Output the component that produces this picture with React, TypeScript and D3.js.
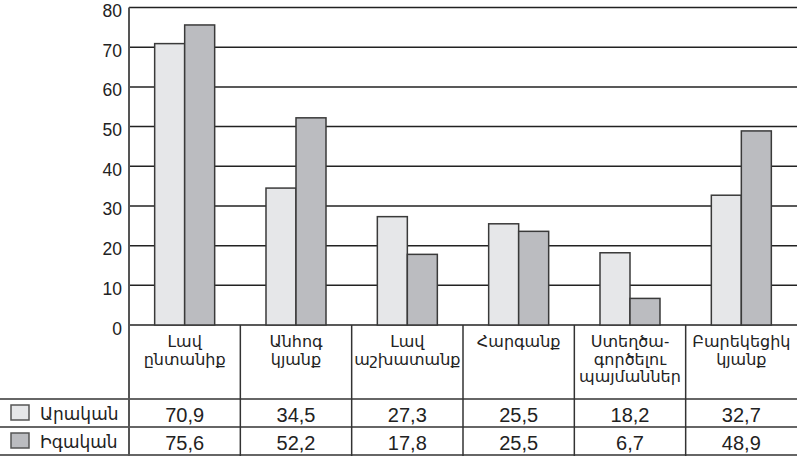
import React from 'react';
import * as d3 from 'd3';

// Categories, split into the lines shown in the table header
const CATEGORIES = ['family', 'carefree', 'work', 'respect', 'creative', 'wealth'];
const CATEGORY_LINES = [
  ['Լավ', 'ընտանիք'],
  ['Անհոգ', 'կյանք'],
  ['Լավ', 'աշխատանք'],
  ['Հարգանք'],
  ['Ստեղծա-', 'գործելու', 'պայմաններ'],
  ['Բարեկեցիկ', 'կյանք'],
];

const SERIES = ['Արական', 'Իգական'];
// Bar heights as drawn
const MALE = [70.9, 34.5, 27.3, 25.5, 18.2, 32.7];
const FEMALE = [75.6, 52.2, 17.8, 23.6, 6.7, 48.9];
// Values printed in the table
const MALE_LABELS = ['70,9', '34,5', '27,3', '25,5', '18,2', '32,7'];
const FEMALE_LABELS = ['75,6', '52,2', '17,8', '25,5', '6,7', '48,9'];
const Y_TICKS = [0, 10, 20, 30, 40, 50, 60, 70, 80];

const FILLS = ['#e6e7e9', '#bbbcc0'];
const W = 797;
const H = 456;
const FONT = '"Liberation Sans", Arial, "DejaVu Sans", sans-serif';

export default function App() {
  const left = 129;
  const top = 7.5;
  const bottom = 325;
  const headerBottom = 399;
  const rowH = 28;

  const x = d3.scaleBand<string>().domain(CATEGORIES).range([left, W]).padding(0);
  const barW = 30;
  const po = (x.bandwidth() / barW - 2) / 2;
  const xs = d3.scaleBand<string>().domain(SERIES).range([0, x.bandwidth()]).paddingInner(0).paddingOuter(po);
  const y = d3.scaleLinear().domain([0, 80]).range([bottom, top]);

  const values = [MALE, FEMALE];
  const labels = [MALE_LABELS, FEMALE_LABELS];

  return (
    <svg
      width={W}
      height={H}
      style={{ position: 'absolute', left: 0, top: 0, background: '#fff' }}
      fontFamily={FONT}
    >
      {/* gridlines */}
      {Y_TICKS.map((t) => (
        <g key={t}>
          <line x1={left} x2={W} y1={y(t)} y2={y(t)} stroke="#222" strokeWidth={1.5} />
          <text x={122} y={y(t) + 9.5} textAnchor="end" fontSize={17.5} fill="#222">
            {t}
          </text>
        </g>
      ))}

      {/* bars */}
      {CATEGORIES.map((c, i) => (
        <g key={c} transform={`translate(${x(c)},0)`}>
          {SERIES.map((s, j) => (
            <rect
              key={s}
              x={xs(s)}
              y={y(values[j][i])}
              width={xs.bandwidth()}
              height={y(0) - y(values[j][i])}
              fill={FILLS[j]}
              stroke="#3a3a3a"
              strokeWidth={1.5}
            />
          ))}
        </g>
      ))}

      {/* table lines */}
      {[headerBottom, headerBottom + rowH, headerBottom + 2 * rowH].map((ly) => (
        <line key={ly} x1={0} x2={W} y1={ly} y2={ly} stroke="#333" strokeWidth={1.5} />
      ))}
      {CATEGORIES.slice(1).map((c) => (
        <line key={c} x1={x(c)} x2={x(c)} y1={bottom} y2={H} stroke="#333" strokeWidth={1.5} />
      ))}
      <line x1={left} x2={left} y1={top} y2={H} stroke="#555" strokeWidth={2} />

      {/* header text */}
      {CATEGORIES.map((c, i) => (
        <text
          key={c}
          x={(x(c) ?? 0) + x.bandwidth() / 2}
          textAnchor="middle"
          fontSize={16}
          fill="#222"
        >
          {CATEGORY_LINES[i].map((line, k) => (
            <tspan key={k} x={(x(c) ?? 0) + x.bandwidth() / 2} y={347 + k * 17.5}>
              {line}
            </tspan>
          ))}
        </text>
      ))}

      {/* rows */}
      {SERIES.map((s, j) => {
        const ry = headerBottom + j * rowH;
        return (
          <g key={s}>
            <rect x={11} y={ry + 6} width={18} height={15} fill={FILLS[j]} stroke="#555" strokeWidth={1.5} />
            <text x={40} y={ry + 21} fontSize={17} fill="#222">
              {s}
            </text>
            {CATEGORIES.map((c, i) => (
              <text
                key={c}
                x={(x(c) ?? 0) + x.bandwidth() / 2}
                y={ry + 23}
                textAnchor="middle"
                fontSize={20}
                fill="#222"
              >
                {labels[j][i]}
              </text>
            ))}
          </g>
        );
      })}
    </svg>
  );
}
